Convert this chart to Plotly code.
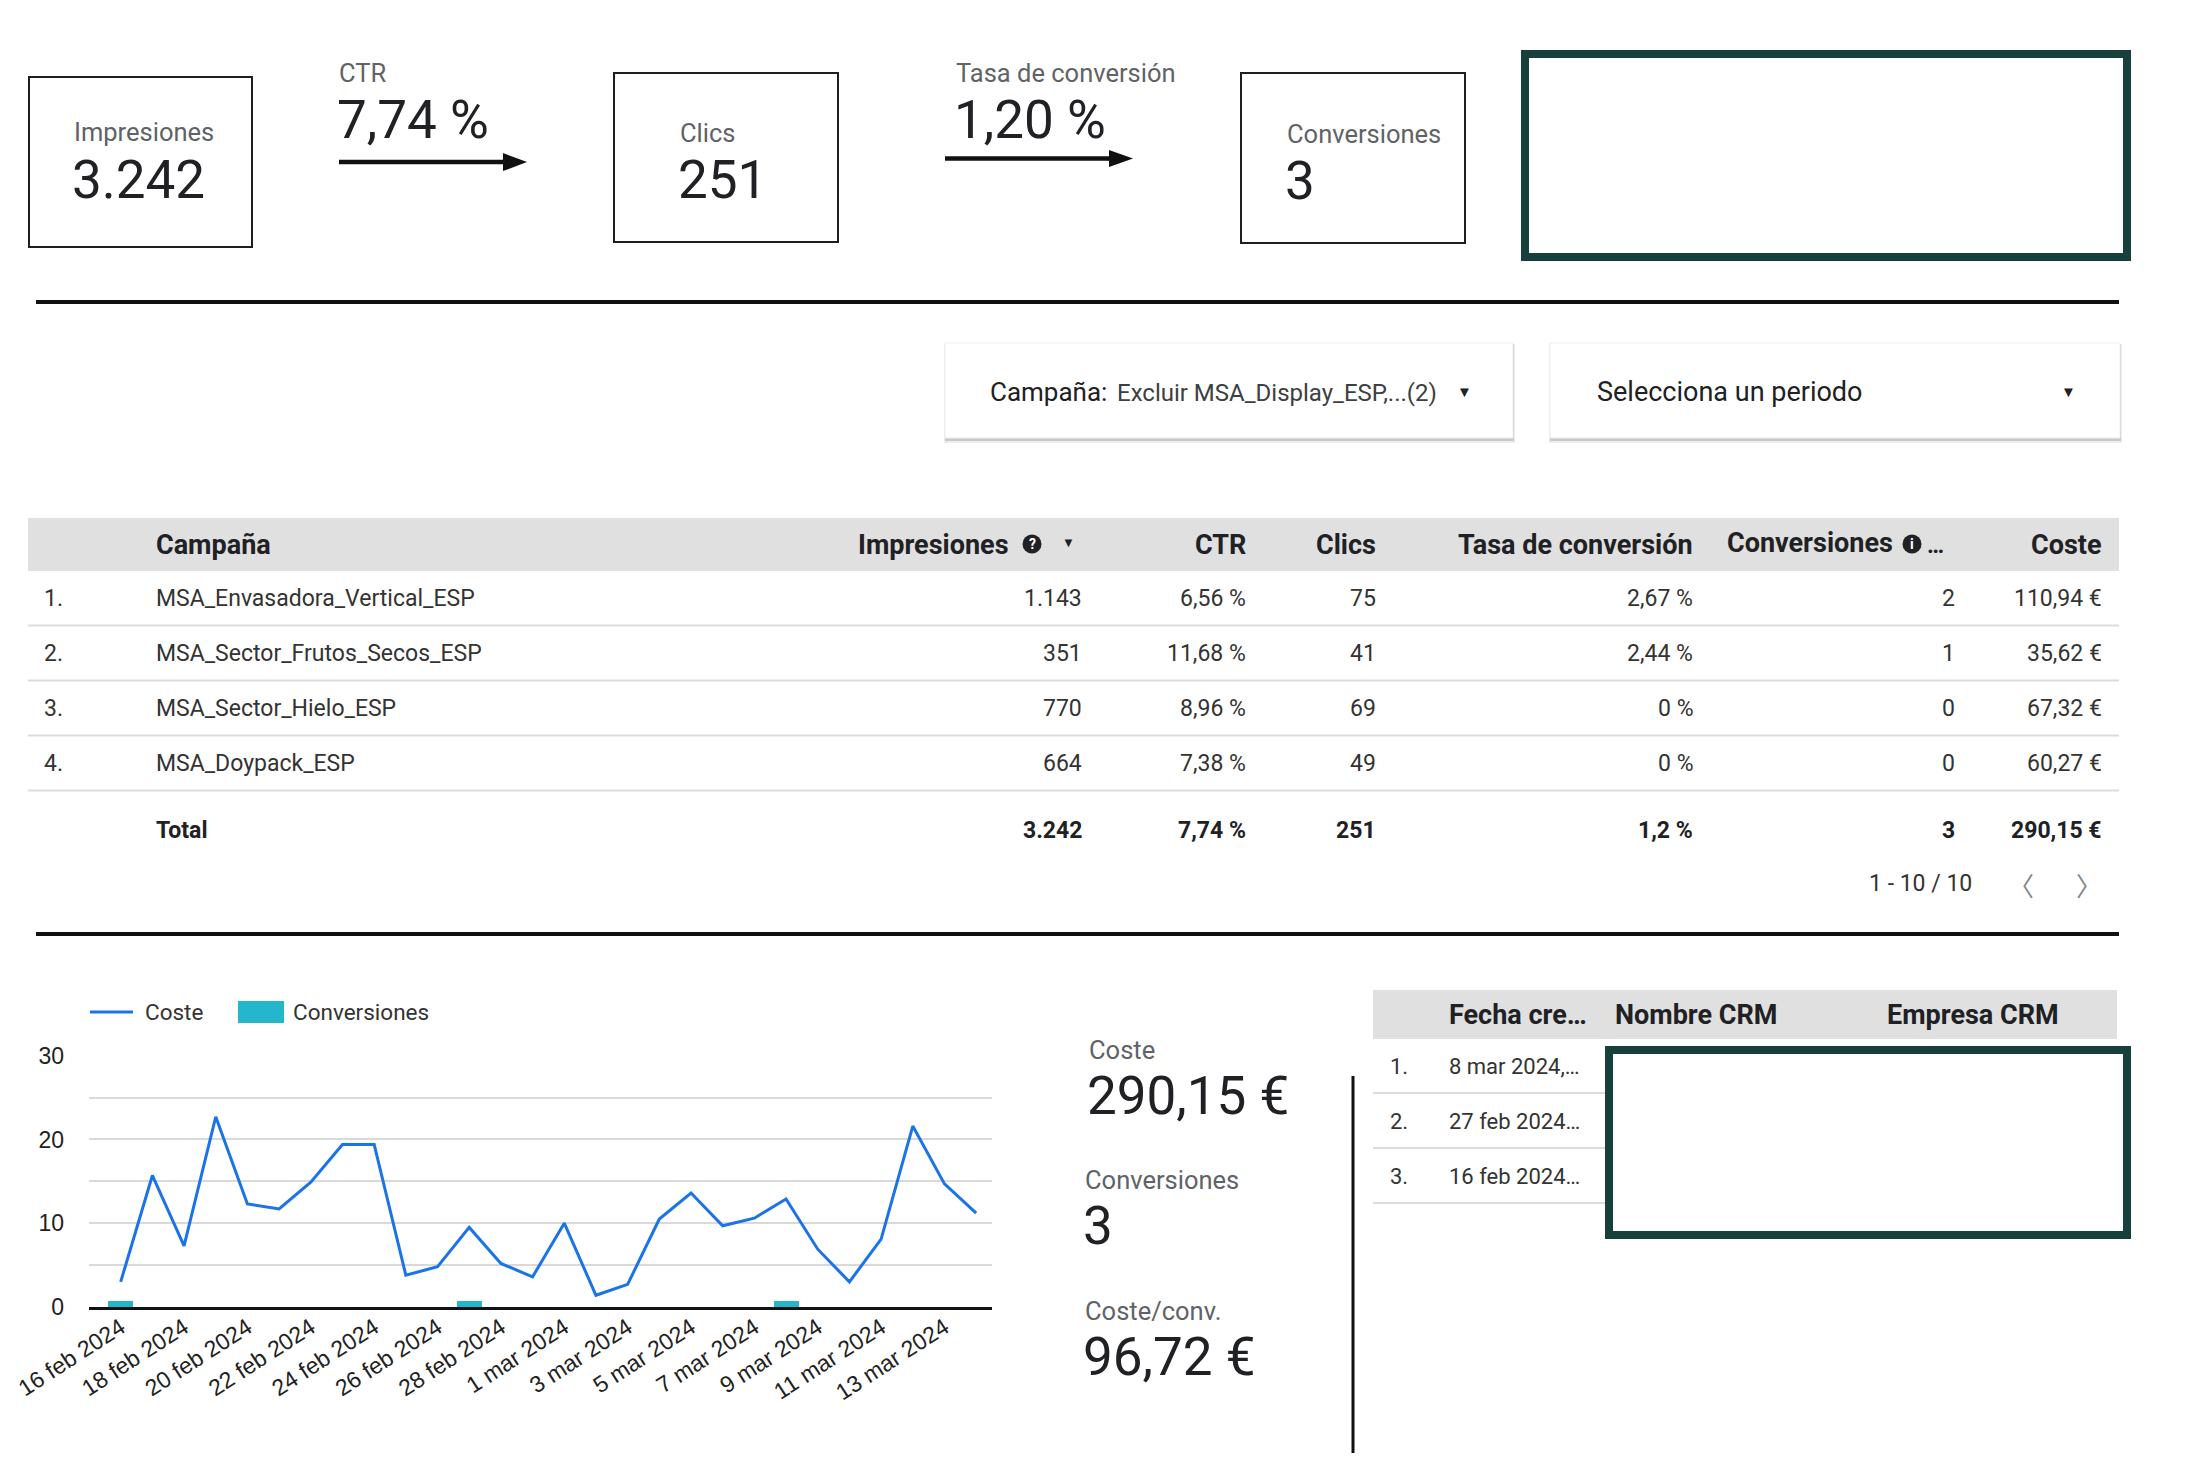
import plotly.graph_objects as go

PAGE_W, PAGE_H = 2186, 1471
OFF = 8  # default body margin of the html page
W, H = PAGE_W - 2 * OFF, PAGE_H - 2 * OFF

# ---------------- data ----------------
kpi_impresiones = 3242
kpi_ctr = 7.74
kpi_clics = 251
kpi_tasa_conv = 1.20
kpi_conversiones = 3
kpi_coste = 290.15
kpi_coste_conv = 96.72

table_headers = ["Campaña", "Impresiones", "CTR", "Clics", "Tasa de conversión", "Conversiones", "Coste"]
campanas = ["MSA_Envasadora_Vertical_ESP", "MSA_Sector_Frutos_Secos_ESP",
            "MSA_Sector_Hielo_ESP", "MSA_Doypack_ESP"]
impresiones = [1143, 351, 770, 664]
ctr = [6.56, 11.68, 8.96, 7.38]
clics = [75, 41, 69, 49]
tasa_conversion = [2.67, 2.44, 0, 0]
conversiones = [2, 1, 0, 0]
coste = [110.94, 35.62, 67.32, 60.27]
total_impresiones = 3242
total_ctr = 7.74
total_clics = 251
total_tasa = 1.2
total_conversiones = 3
total_coste = 290.15
paginacion = "1 - 10 / 10"

fechas = ["2024-02-16", "2024-02-17", "2024-02-18", "2024-02-19", "2024-02-20",
          "2024-02-21", "2024-02-22", "2024-02-23", "2024-02-24", "2024-02-25",
          "2024-02-26", "2024-02-27", "2024-02-28", "2024-02-29", "2024-03-01",
          "2024-03-02", "2024-03-03", "2024-03-04", "2024-03-05", "2024-03-06",
          "2024-03-07", "2024-03-08", "2024-03-09", "2024-03-10", "2024-03-11",
          "2024-03-12", "2024-03-13", "2024-03-14"]
coste_diario = [3.0, 15.7, 7.3, 22.7, 12.3, 11.7, 14.9, 19.4, 19.4, 3.8,
                4.8, 9.5, 5.2, 3.6, 10.0, 1.4, 2.7, 10.5, 13.6, 9.7,
                10.6, 12.9, 6.9, 3.0, 8.1, 21.6, 14.7, 11.2]
conv_diarias = [1, 0, 0, 0, 0, 0, 0, 0, 0, 0,
                0, 1, 0, 0, 0, 0, 0, 0, 0, 0,
                0, 1, 0, 0, 0, 0, 0, 0]
etiquetas_fecha = ["16 feb 2024", "18 feb 2024", "20 feb 2024", "22 feb 2024",
                   "24 feb 2024", "26 feb 2024", "28 feb 2024", "1 mar 2024",
                   "3 mar 2024", "5 mar 2024", "7 mar 2024", "9 mar 2024",
                   "11 mar 2024", "13 mar 2024"]
y_ticks = [0, 10, 20, 30]

crm_headers = ["Fecha cre…", "Nombre CRM", "Empresa CRM"]
crm_fechas = ["8 mar 2024,…", "27 feb 2024…", "16 feb 2024…"]

# ---------------- styles ----------------
FONT = "Roboto"
TICKFONT = "Liberation Sans, Arial"
BLUE = "#1a73e8"
TEAL = "#24b6cb"
GREEN = "#173f3c"
LABEL = "#5f6368"
DARK = "#202124"
HEADER_BG = "#e0e0e0"
SEP = "#dcdcdc"
ROW = 23
HEAD = 27


def fmt_int(v):
    return f"{v:,}".replace(",", ".")


def fmt_pct(v, dec=None):
    s = f"{v:.{dec}f}" if dec is not None else f"{v:g}"
    return s.replace(".", ",") + " %"


def fmt_eur(v):
    return f"{v:,.2f}".replace(",", "X").replace(".", ",").replace("X", ".") + " €"


fig = go.Figure()

# ---------------- chart ----------------
fig.add_trace(go.Bar(x=fechas, y=conv_diarias, name="Conversiones", marker_color=TEAL,
                     marker_line_width=0, width=0.79 * 86400000, yaxis="y2",
                     showlegend=False))
fig.add_trace(go.Scatter(x=fechas, y=coste_diario, name="Coste", mode="lines",
                         line=dict(color=BLUE, width=3), showlegend=False))


def X(px):
    return (px - OFF) / W


def Y(py):
    return 1 - (py - OFF) / H


def rect(x0, y0, x1, y1, line_color=None, line_width=0, fill=None):
    fig.add_shape(type="rect", xref="paper", yref="paper",
                  x0=X(x0), x1=X(x1), y0=Y(y1), y1=Y(y0),
                  line=dict(color=line_color or "rgba(0,0,0,0)", width=line_width),
                  fillcolor=fill or "rgba(0,0,0,0)", layer="above")


def line(x0, y0, x1, y1, color, width):
    fig.add_shape(type="line", xref="paper", yref="paper",
                  x0=X(x0), x1=X(x1), y0=Y(y0), y1=Y(y1),
                  line=dict(color=color, width=width), layer="above")


def circle(cx, cy, r, fill):
    fig.add_shape(type="circle", xref="paper", yref="paper",
                  x0=X(cx - r), x1=X(cx + r), y0=Y(cy + r), y1=Y(cy - r),
                  line=dict(width=0), fillcolor=fill, layer="above")


def tri(pts, fill):
    p = " L ".join(f"{X(x)},{Y(y)}" for x, y in pts)
    fig.add_shape(type="path", xref="paper", yref="paper", path="M " + p + " Z",
                  line=dict(width=0), fillcolor=fill, layer="above")


def txt(x, y, s, size, color=DARK, anchor="left", family=FONT):
    fig.add_annotation(x=X(x), y=Y(y), xref="paper", yref="paper", text=s,
                       showarrow=False, xanchor=anchor, yanchor="middle",
                       font=dict(family=family, size=size, color=color))


# ---------------- top KPI row ----------------
rect(29, 77, 252, 247, "#1e1e1e", 2)
txt(72, 132, "Impresiones", 25.5, LABEL)
txt(70, 180, fmt_int(kpi_impresiones), 53, DARK)

txt(337, 73, "CTR", 25.5, LABEL)
txt(335, 120, fmt_pct(kpi_ctr, 2), 53, DARK)
line(339, 162, 506, 162, "#111", 4.5)
tri([(503, 153), (527, 162), (503, 171)], "#111")

rect(614, 73, 838, 242, "#1e1e1e", 2)
txt(678, 133, "Clics", 25.5, LABEL)
txt(676, 180, fmt_int(kpi_clics), 53, DARK)

txt(954, 73, "Tasa de conversión", 25.5, LABEL)
txt(952, 120, fmt_pct(kpi_tasa_conv, 2), 53, DARK)
line(945, 158.5, 1112, 158.5, "#111", 4.5)
tri([(1109, 150), (1133, 158.5), (1109, 167)], "#111")

rect(1241, 73, 1465, 243, "#1e1e1e", 2)
txt(1285, 134, "Conversiones", 25.5, LABEL)
txt(1283, 181, fmt_int(kpi_conversiones), 53, DARK)

rect(1525, 54, 2127, 257, GREEN, 8)

line(36, 302, 2119, 302, "#111", 4)

# ---------------- filters ----------------
for x0, x1 in [(945, 1513), (1550, 2120)]:
    rect(x0 - 1, 344, x1 + 2, 443, fill="#ececec")
    rect(x0, 344, x1 + 1, 441, fill="#c9c9c9")
    rect(x0, 343, x1, 438, "#eeeeee", 1, "white")
txt(988, 392, "Campaña:", 26, DARK)
txt(1115, 393, "Excluir MSA_Display_ESP,...(2)", 24, "#3c4043")
txt(1464, 392, "▼", 15, "#202124", "center")
txt(1595, 392, "Selecciona un periodo", 27, DARK)
txt(2068, 392, "▼", 15, "#202124", "center")

# ---------------- campaign table ----------------
rect(28, 518, 2119, 571, fill=HEADER_BG)
hy = 545
col_right = [1083, 1247, 1377, 1694, 1956, 2103]
txt(154, hy, f"<b>{table_headers[0]}</b>", HEAD, DARK)
txt(1011, hy, f"<b>{table_headers[1]}</b>", HEAD, DARK, "right")
circle(1032, hy - 1, 9.5, DARK)
txt(1032, hy - 1, "<b>?</b>", 14, "white", "center")
txt(1068, hy - 3, "▼", 13, DARK, "center")
txt(col_right[1] + 1, hy, f"<b>{table_headers[2]}</b>", HEAD, DARK, "right")
txt(col_right[2] + 1, hy, f"<b>{table_headers[3]}</b>", HEAD, DARK, "right")
txt(col_right[3] + 1, hy, f"<b>{table_headers[4]}</b>", HEAD, DARK, "right")
txt(1725, hy - 2, f"<b>{table_headers[5]}</b>", HEAD, DARK)
circle(1912, hy - 1, 9.5, DARK)
txt(1912, hy - 1, "<b>i</b>", 14, "white", "center")
txt(1925, hy, "<b>…</b>", 23, DARK)
txt(col_right[5] + 1, hy, f"<b>{table_headers[6]}</b>", HEAD, DARK, "right")

row_y0, row_h = 598, 55
for i, camp in enumerate(campanas):
    yy = row_y0 + i * row_h
    cells = [fmt_int(impresiones[i]), fmt_pct(ctr[i]), fmt_int(clics[i]),
             fmt_pct(tasa_conversion[i]), fmt_int(conversiones[i]), fmt_eur(coste[i])]
    txt(42, yy, f"{i + 1}.", ROW, "#333")
    txt(154, yy, camp, ROW, "#333")
    for c, v in zip(col_right, cells):
        txt(c + 1, yy, v, ROW, "#333", "right")
    line(28, yy + 27.5, 2119, yy + 27.5, SEP, 2)

ty = 830
tot = [fmt_int(total_impresiones), fmt_pct(total_ctr), fmt_int(total_clics),
       fmt_pct(total_tasa), fmt_int(total_conversiones), fmt_eur(total_coste)]
txt(154, ty, "<b>Total</b>", ROW, DARK)
for c, v in zip(col_right, tot):
    txt(c + 1, ty, f"<b>{v}</b>", ROW, DARK, "right")

txt(1867, 883, paginacion, ROW, "#333")
txt(2021, 884, "〈", 26, "#80868b", "center", "Noto Sans CJK SC")
txt(2089, 884, "〉", 26, "#80868b", "center", "Noto Sans CJK SC")

line(36, 934, 2119, 934, "#111", 4)

# ---------------- chart legend (custom) ----------------
line(90, 1012, 133, 1012, BLUE, 3)
txt(143, 1012, fig.data[1].name, 22.5, "#333")
rect(238, 1001, 284, 1023, fill=TEAL)
txt(291, 1012, fig.data[0].name, 22.5, "#333")

# ---------------- bottom KPIs ----------------
txt(1087, 1050, "Coste", 25.5, LABEL)
txt(1085, 1096, fmt_eur(kpi_coste), 53, DARK)
txt(1083, 1180, "Conversiones", 25.5, LABEL)
txt(1081, 1226, fmt_int(kpi_conversiones), 53, DARK)
txt(1083, 1311, "Coste/conv.", 25.5, LABEL)
txt(1081, 1357, fmt_eur(kpi_coste_conv), 53, DARK)
line(1353, 1076, 1353, 1453, "#111", 3)

# ---------------- CRM table ----------------
rect(1373, 990, 2117, 1039, fill=HEADER_BG)
txt(1447, 1015, f"<b>{crm_headers[0]}</b>", HEAD, DARK)
txt(1613, 1015, f"<b>{crm_headers[1]}</b>", HEAD, DARK)
txt(1885, 1015, f"<b>{crm_headers[2]}</b>", HEAD, DARK)
for i, f in enumerate(crm_fechas):
    yy = 1066 + i * 55
    txt(1388, yy, f"{i + 1}.", 22, "#333")
    txt(1447, yy, f, 22, "#333")
    line(1373, yy + 27, 2117, yy + 27, SEP, 2)
rect(1609, 1050, 2127, 1235, GREEN, 8, "white")

# ---------------- layout ----------------
fig.update_layout(
    width=W, height=H, autosize=False,
    margin=dict(l=0, r=0, t=0, b=0),
    paper_bgcolor="white", plot_bgcolor="white",
    showlegend=False, font=dict(family=FONT),
    bargap=0,
    xaxis=dict(type="date", domain=[X(89), X(992)],
               range=["2024-02-15 00:00", "2024-03-14 12:00"],
               tickmode="array", tickvals=fechas[::2], ticktext=etiquetas_fecha,
               tickangle=-33, tickfont=dict(family=TICKFONT, size=23, color="#222"),
               showgrid=False, showline=True, linecolor="#111", linewidth=3,
               ticks="", ticklabelstandoff=-5, zeroline=False, automargin=False,
               fixedrange=True),
    yaxis=dict(domain=[Y(1307), Y(1055)], range=[0, 30.08],
               tickmode="array", tickvals=y_ticks,
               tickfont=dict(family=TICKFONT, size=23, color="#222"),
               showgrid=True, gridcolor="#d9d9d9", gridwidth=2,
               minor=dict(dtick=5, tick0=0, showgrid=True, gridcolor="#d9d9d9", gridwidth=2),
               zeroline=False, showline=False, ticks="", ticklabelstandoff=24,
               automargin=False, fixedrange=True),
    yaxis2=dict(overlaying="y", range=[0, 45], visible=False, fixedrange=True),
)

fig.write_html("out.html")
